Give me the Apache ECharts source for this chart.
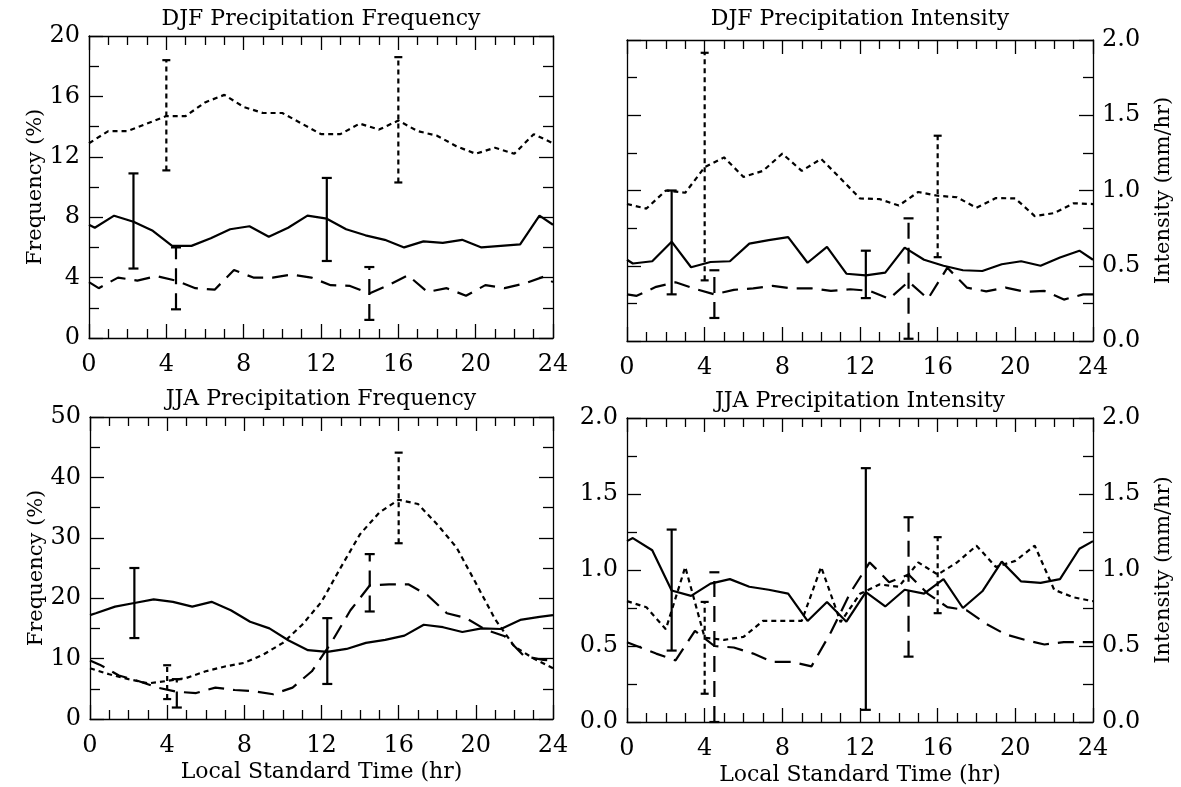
<!DOCTYPE html>
<html><head><meta charset="utf-8">
<script src="https://cdn.jsdelivr.net/npm/echarts@6/dist/echarts.min.js"></script>
<style>html,body{margin:0;padding:0;background:#fff}#c{width:1181px;height:787px}</style>
</head><body><div id="c"></div>
<script>
// ---- time stamps of each curve (local standard time, hr) ----
const hoursSolid = [0, 0.3, 1.3, 2.3, 3.3, 4.3, 5.3, 6.3, 7.3, 8.3, 9.3, 10.3, 11.3, 12.3, 13.3, 14.3, 15.3, 16.3, 17.3, 18.3, 19.3, 20.3, 21.3, 22.3, 23.3, 24];
const hoursShort = [0, 1, 2, 3, 4, 5, 6, 7, 8, 9, 10, 11, 12, 13, 14, 15, 16, 17, 18, 19, 20, 21, 22, 23, 24];
const hoursLong  = [0, 0.5, 1.5, 2.5, 3.5, 4.5, 5.5, 6.5, 7.5, 8.5, 9.5, 10.5, 11.5, 12.5, 13.5, 14.5, 15.5, 16.5, 17.5, 18.5, 19.5, 20.5, 21.5, 22.5, 23.5, 24];

// ---- DJF frequency (%) ----
const djfFreqSolid = [7.5, 7.3, 8.1, 7.7, 7.1, 6.1, 6.1, 6.6, 7.2, 7.4, 6.7, 7.3, 8.1, 7.9, 7.2, 6.8, 6.5, 6.0, 6.4, 6.3, 6.5, 6.0, 6.1, 6.2, 8.1, 7.5];
const djfFreqShort = [12.9, 13.7, 13.7, 14.2, 14.7, 14.7, 15.6, 16.1, 15.3, 14.9, 14.9, 14.2, 13.5, 13.5, 14.2, 13.8, 14.4, 13.7, 13.4, 12.7, 12.2, 12.6, 12.2, 13.5, 12.9];
const djfFreqLong  = [3.7, 3.3, 4.0, 3.8, 4.1, 3.8, 3.3, 3.2, 4.5, 4.0, 4.0, 4.2, 4.0, 3.5, 3.45, 2.95, 3.5, 4.15, 3.05, 3.3, 2.8, 3.5, 3.3, 3.6, 4.05, 3.7];
const djfFreqErrSolid = [[2.3, 4.6, 10.9], [12.3, 5.1, 10.6]];
const djfFreqErrShort = [[4.0, 11.1, 18.4], [16.0, 10.3, 18.6]];
const djfFreqErrLong  = [[4.5, 1.9, 6.0], [14.5, 1.2, 4.7]];

// ---- DJF intensity (mm/hr) ----
const djfIntSolid = [0.54, 0.515, 0.53, 0.66, 0.49, 0.525, 0.53, 0.647, 0.67, 0.69, 0.52, 0.625, 0.447, 0.436, 0.454, 0.62, 0.54, 0.50, 0.47, 0.465, 0.51, 0.53, 0.50, 0.555, 0.60, 0.54];
const djfIntShort = [0.91, 0.88, 1.0, 0.985, 1.155, 1.22, 1.09, 1.13, 1.245, 1.13, 1.21, 1.08, 0.947, 0.943, 0.90, 0.99, 0.965, 0.955, 0.885, 0.95, 0.947, 0.83, 0.85, 0.915, 0.91];
const djfIntLong  = [0.31, 0.30, 0.36, 0.39, 0.347, 0.31, 0.34, 0.35, 0.366, 0.35, 0.35, 0.333, 0.344, 0.333, 0.28, 0.395, 0.28, 0.487, 0.355, 0.33, 0.355, 0.327, 0.333, 0.275, 0.31, 0.31];
const djfIntErrSolid = [[2.3, 0.31, 1.0], [12.3, 0.285, 0.60]];
const djfIntErrShort = [[4.0, 0.403, 1.915], [16.0, 0.557, 1.364]];
const djfIntErrLong  = [[4.5, 0.153, 0.47], [14.5, 0.015, 0.815]];

// ---- JJA frequency (%) ----
const jjaFreqSolid = [17.2, 17.5, 18.6, 19.2, 19.8, 19.4, 18.6, 19.4, 18.0, 16.1, 15.0, 13.0, 11.4, 11.1, 11.6, 12.6, 13.1, 13.8, 15.6, 15.2, 14.4, 15.0, 14.9, 16.4, 16.9, 17.2];
const jjaFreqShort = [8.4, 7.4, 6.6, 5.9, 6.3, 6.8, 7.9, 8.7, 9.3, 10.7, 12.6, 15.6, 19.4, 25.1, 30.6, 34.2, 36.3, 35.6, 32.2, 28.4, 22.5, 16.5, 12.0, 10.0, 8.4];
const jjaFreqLong  = [9.7, 9.0, 7.2, 6.3, 5.2, 4.5, 4.3, 5.2, 4.8, 4.6, 4.1, 5.2, 7.9, 12.6, 18.0, 22.1, 22.3, 22.3, 20.5, 17.5, 16.7, 14.8, 13.7, 10.4, 9.8, 9.7];
const jjaFreqErrSolid = [[2.3, 13.4, 25.0], [12.3, 5.8, 16.7]];
const jjaFreqErrShort = [[4.0, 3.3, 8.9], [16.0, 29.1, 44.1]];
const jjaFreqErrLong  = [[4.5, 1.9, 6.6], [14.5, 17.8, 27.3]];

// ---- JJA intensity (mm/hr) ----
const jjaIntSolid = [1.19, 1.21, 1.13, 0.865, 0.83, 0.91, 0.94, 0.89, 0.87, 0.845, 0.665, 0.79, 0.66, 0.855, 0.76, 0.87, 0.845, 0.94, 0.75, 0.86, 1.055, 0.925, 0.915, 0.94, 1.14, 1.19];
const jjaIntShort = [0.795, 0.755, 0.61, 1.02, 0.555, 0.54, 0.56, 0.665, 0.665, 0.665, 1.02, 0.657, 0.843, 0.905, 0.89, 1.05, 0.97, 1.05, 1.16, 1.02, 1.06, 1.16, 0.87, 0.82, 0.795];
const jjaIntLong  = [0.525, 0.50, 0.45, 0.405, 0.60, 0.50, 0.49, 0.45, 0.395, 0.395, 0.366, 0.59, 0.85, 1.05, 0.92, 0.97, 0.843, 0.756, 0.734, 0.646, 0.576, 0.54, 0.51, 0.525, 0.525, 0.525];
const jjaIntErrSolid = [[2.3, 0.47, 1.266], [12.3, 0.08, 1.67]];
const jjaIntErrShort = [[4.0, 0.186, 0.79], [16.0, 0.716, 1.216]];
const jjaIntErrLong  = [[4.5, 0.0, 0.985], [14.5, 0.43, 1.347]];

// ---- texts & axis ranges ----
const panelTitles = ['DJF Precipitation Frequency', 'DJF Precipitation Intensity', 'JJA Precipitation Frequency', 'JJA Precipitation Intensity'];
const freqAxisName = 'Frequency (%)';
const intAxisName = 'Intensity (mm/hr)';
const timeAxisName = 'Local Standard Time (hr)';
const timeRange = [0, 24, 4];
const djfFreqRange = [0, 20, 4];
const jjaFreqRange = [0, 50, 10];
const intRange = [0, 2, 0.5];

// ---- build ----
const FONT = 'DejaVu Serif';
const BLACK = '#000';
const SHORT_DASH = [5, 4];
const LONG_DASH = [16, 9];

const panels = [
  {grid: {left: 89, top: 36, width: 464, height: 302}, titleX: 321, titleTop: 8, y: djfFreqRange,
   leftLabel: true, rightLabel: false, leftName: freqAxisName, rightName: '', xName: '', fmt: v => String(v),
   solid: djfFreqSolid, short: djfFreqShort, long: djfFreqLong, eS: djfFreqErrSolid, eSh: djfFreqErrShort, eL: djfFreqErrLong},
  {grid: {left: 627, top: 40, width: 466, height: 301}, titleX: 860, titleTop: 8, y: intRange,
   leftLabel: false, rightLabel: true, leftName: '', rightName: intAxisName, xName: '', fmt: v => v.toFixed(1),
   solid: djfIntSolid, short: djfIntShort, long: djfIntLong, eS: djfIntErrSolid, eSh: djfIntErrShort, eL: djfIntErrLong},
  {grid: {left: 90, top: 417, width: 463, height: 302}, titleX: 321, titleTop: 388, y: jjaFreqRange,
   leftLabel: true, rightLabel: false, leftName: freqAxisName, rightName: '', xName: timeAxisName, fmt: v => String(v),
   solid: jjaFreqSolid, short: jjaFreqShort, long: jjaFreqLong, eS: jjaFreqErrSolid, eSh: jjaFreqErrShort, eL: jjaFreqErrLong},
  {grid: {left: 627, top: 418, width: 466, height: 304}, titleX: 860, titleTop: 390, y: intRange,
   leftLabel: true, rightLabel: true, leftName: '', rightName: intAxisName, xName: timeAxisName, fmt: v => v.toFixed(1),
   solid: jjaIntSolid, short: jjaIntShort, long: jjaIntLong, eS: jjaIntErrSolid, eSh: jjaIntErrShort, eL: jjaIntErrLong}
];

const zip = (xs, ys) => xs.map((x, i) => [x, ys[i]]);
const lineStyleAxis = {color: BLACK, width: 1.3};

function xAxis(g, pos, showLabel, name) {
  return {
    type: 'value', gridIndex: g, position: pos, min: timeRange[0], max: timeRange[1], interval: timeRange[2],
    axisLine: {show: true, onZero: false, lineStyle: lineStyleAxis},
    axisTick: {show: true, inside: true, length: 14, lineStyle: lineStyleAxis},
    minorTick: {show: true, splitNumber: 4, length: 9, lineStyle: lineStyleAxis},
    splitLine: {show: false}, minorSplitLine: {show: false},
    axisLabel: {show: showLabel, margin: 15, fontFamily: FONT, fontSize: 24, color: BLACK},
    name: name, nameLocation: 'middle', nameGap: 42,
    nameTextStyle: {fontFamily: FONT, fontSize: 22, color: BLACK}
  };
}
function yAxis(g, pos, p, showLabel, name) {
  return {
    type: 'value', gridIndex: g, position: pos, min: p.y[0], max: p.y[1], interval: p.y[2],
    axisLine: {show: true, onZero: false, lineStyle: lineStyleAxis},
    axisTick: {show: true, inside: true, length: 14, lineStyle: lineStyleAxis},
    minorTick: {show: true, splitNumber: 2, length: 10, lineStyle: lineStyleAxis},
    splitLine: {show: false}, minorSplitLine: {show: false},
    axisLabel: {show: showLabel, margin: 9, fontFamily: FONT, fontSize: 24, color: BLACK, formatter: p.fmt},
    name: name, nameLocation: 'middle', nameGap: pos === 'left' ? 43 : 60, nameRotate: 90,
    nameTextStyle: {fontFamily: FONT, fontSize: 21, color: BLACK}
  };
}
function lineSeries(g, data, dash) {
  return {
    type: 'line', xAxisIndex: 2 * g, yAxisIndex: 2 * g, data: data, symbol: 'none', silent: true,
    animation: false, clip: true,
    lineStyle: {color: BLACK, width: 2.2, type: dash || 'solid'}
  };
}
function errSeries(g, bars, dash, cap) {
  return {
    type: 'custom', xAxisIndex: 2 * g, yAxisIndex: 2 * g, data: bars, silent: true, animation: false,
    dimensions: ['x', 'lo', 'hi'], encode: {x: 0, y: [1, 2]},
    renderItem: function (params, api) {
      const x = api.value(0), lo = api.value(1), hi = api.value(2);
      const a = api.coord([x, lo]), b = api.coord([x, hi]);
      const vs = {stroke: BLACK, lineWidth: 2.2, fill: null, lineDash: dash || null};
      const cs = {stroke: BLACK, lineWidth: 2.2, fill: null};
      return {type: 'group', children: [
        {type: 'line', shape: {x1: a[0], y1: a[1], x2: b[0], y2: b[1]}, style: vs},
        {type: 'line', shape: {x1: a[0] - cap, y1: a[1], x2: a[0] + cap, y2: a[1]}, style: cs},
        {type: 'line', shape: {x1: b[0] - cap, y1: b[1], x2: b[0] + cap, y2: b[1]}, style: cs}
      ]};
    }
  };
}

const option = {
  backgroundColor: '#fff', animation: false,
  title: panels.map((p, i) => ({
    text: panelTitles[i], left: p.titleX, top: p.titleTop, textAlign: 'center', padding: 0,
    textStyle: {fontFamily: FONT, fontSize: 22, fontWeight: 'normal', color: BLACK}
  })),
  grid: panels.map(p => p.grid),
  xAxis: [], yAxis: [], series: []
};
panels.forEach((p, g) => {
  option.xAxis.push(xAxis(g, 'bottom', true, p.xName));
  option.xAxis.push(xAxis(g, 'top', false, ''));
  option.yAxis.push(yAxis(g, 'left', p, p.leftLabel, p.leftName));
  option.yAxis.push(yAxis(g, 'right', p, p.rightLabel, p.rightName));
  option.series.push(lineSeries(g, zip(hoursSolid, p.solid), 'solid'));
  option.series.push(lineSeries(g, zip(hoursShort, p.short), SHORT_DASH));
  option.series.push(lineSeries(g, zip(hoursLong, p.long), LONG_DASH));
  option.series.push(errSeries(g, p.eS, null, 5));
  option.series.push(errSeries(g, p.eSh, SHORT_DASH, 4));
  option.series.push(errSeries(g, p.eL, LONG_DASH, 5));
});

const chart = echarts.init(document.getElementById('c'), null, {renderer: 'canvas'});
chart.setOption(option);
</script></body></html>
